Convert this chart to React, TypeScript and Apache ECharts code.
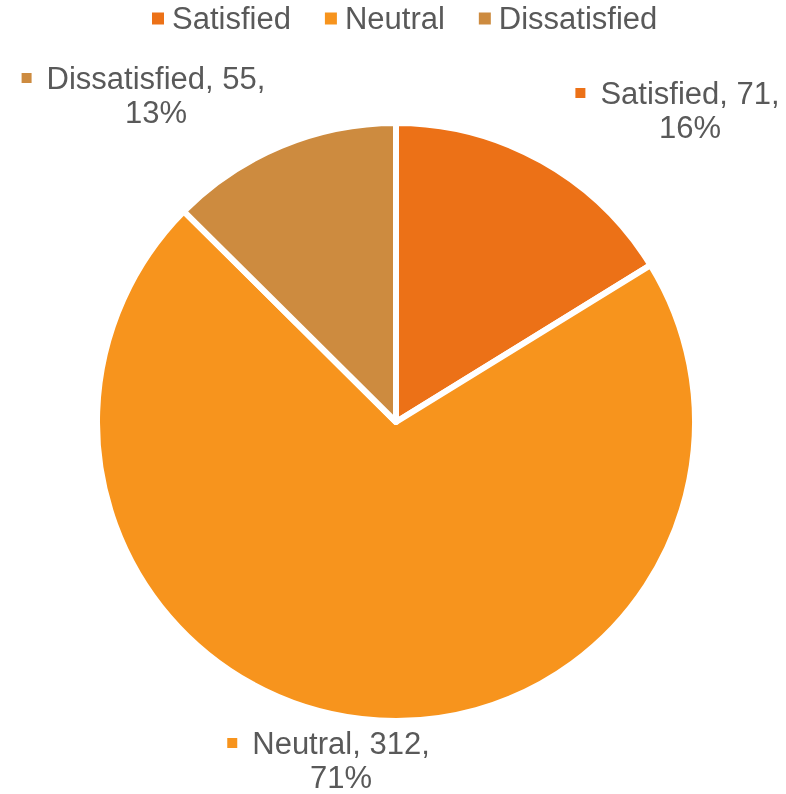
import React, { useEffect, useRef } from "react";
import * as echarts from "echarts";

const categories = ["Satisfied", "Neutral", "Dissatisfied"];
const values = [71, 312, 55];
const colors = ["#EC7117", "#F7941D", "#CD8B3F"];
const FONT = "'Liberation Sans', Arial, sans-serif";
const TEXT = "#595959";

export default function App() {
  const ref = useRef<HTMLDivElement>(null);
  useEffect(() => {
    if (!ref.current) return;
    const chart = echarts.init(ref.current, undefined, { renderer: "svg" });
    const total = values.reduce((a, b) => a + b, 0);
    const labelPos = [
      { x: 690, y: 110 },
      { x: 341, y: 760 },
      { x: 156, y: 95 },
    ];
    const rich: any = {
      t: { fontSize: 31, fontFamily: FONT, color: TEXT, lineHeight: 34 },
      g: { width: 15, height: 10 },
      e: { width: 25, height: 10 },
    };
    categories.forEach((c, i) => {
      rich["m" + i] = { width: 10, height: 10, backgroundColor: colors[i] };
    });
    chart.setOption({
      animation: false,
      color: colors,
      textStyle: { fontFamily: FONT },
      legend: {
        top: 3,
        left: 150,
        padding: 0,
        itemWidth: 14,
        itemHeight: 14,
        itemGap: 32,
        icon: "rect",
        data: categories,
        textStyle: { fontSize: 31, color: TEXT, fontFamily: FONT, padding: [0, 0, 0, 2] },
      },
      series: [
        {
          type: "pie",
          center: [396, 422],
          radius: 299,
          startAngle: 90,
          clockwise: true,
          itemStyle: { borderColor: "#ffffff", borderWidth: 6 },
          labelLine: { show: false },
          label: {
            show: true,
            position: "outside",
            overflow: "none",
            formatter: (p: any) => {
              const pct = Math.round((p.value / total) * 100);
              return `{m${p.dataIndex}|}{g|}{t|${p.name}, ${p.value},}{e|}\n{t|${pct}%}`;
            },
            rich,
            align: "center",
          },
          labelLayout: (params: any) => ({
            x: labelPos[params.dataIndex].x,
            y: labelPos[params.dataIndex].y,
            align: "center",
            verticalAlign: "middle",
          }),
          emphasis: { disabled: true },
          data: categories.map((c, i) => ({ name: c, value: values[i] })),
        },
      ],
    });
    return () => chart.dispose();
  }, []);
  return <div ref={ref} style={{ position: "fixed", left: 0, top: 0, width: 786, height: 794 }} />;
}
